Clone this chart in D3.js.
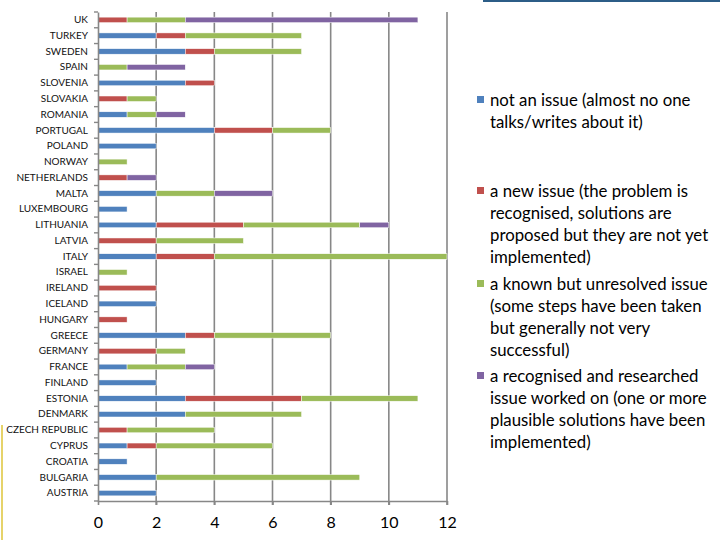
<!DOCTYPE html>
<html><head><meta charset="utf-8">
<script src="https://cdn.jsdelivr.net/npm/d3@7"></script>
<style>body{margin:0;background:#fff}svg{display:block}</style>
</head><body>
<svg id="c" width="720" height="540"></svg>
<script>
// Categories listed bottom to top
const countries = ["AUSTRIA","BULGARIA","CROATIA","CYPRUS","CZECH REPUBLIC","DENMARK","ESTONIA","FINLAND","FRANCE","GERMANY","GREECE","HUNGARY","ICELAND","IRELAND","ISRAEL","ITALY","LATVIA","LITHUANIA","LUXEMBOURG","MALTA","NETHERLANDS","NORWAY","POLAND","PORTUGAL","ROMANIA","SLOVAKIA","SLOVENIA","SPAIN","SWEDEN","TURKEY","UK"];
const notAnIssue   = [2,2,1,1,0,3,3,2,1,0,3,0,2,0,0,2,0,2,1,2,0,0,2,4,1,0,3,0,3,2,0];
const newIssue     = [0,0,0,1,1,0,4,0,0,2,1,1,0,2,0,2,2,3,0,0,1,0,0,2,0,1,1,0,1,1,1];
const knownIssue   = [0,7,0,4,3,4,4,0,2,1,4,0,0,0,1,8,3,4,0,2,0,1,0,2,1,1,0,1,3,4,2];
const researched   = [0,0,0,0,0,0,0,0,1,0,0,0,0,0,0,0,0,1,0,2,1,0,0,0,1,0,0,2,0,0,8];
const seriesNames = [
  "not an issue (almost no one\ntalks/writes about it)",
  "a new issue (the problem is\nrecognised, solutions are\nproposed but they are not yet\nimplemented)",
  "a known but unresolved issue\n(some steps have been taken\nbut generally not very\nsuccessful)",
  "a recognised and researched\nissue worked on (one or more\nplausible solutions have been\nimplemented)"
];
const seriesColors = ["#4f81bd","#c0504d","#9bbb59","#8064a2"];
const xTicks = [0,2,4,6,8,10,12];

const svg = d3.select("#c");
const x = d3.scaleLinear().domain([0,12]).range([98,447]);
const y = d3.scaleBand().domain(countries.slice().reverse()).range([12,501]);
const gridColor = "#878787";

// gridlines
svg.append("g").selectAll("line").data(xTicks.slice(1)).join("line")
  .attr("x1",d=>x(d)).attr("x2",d=>x(d)).attr("y1",12).attr("y2",505)
  .attr("stroke",gridColor).attr("stroke-width",1.6);

// bars
const table = countries.map((c,i)=>({c, v:[notAnIssue[i],newIssue[i],knownIssue[i],researched[i]]}));
const barH = 5.5;
const g = svg.append("g");
table.forEach(row=>{
  let acc = 0;
  row.v.forEach((v,k)=>{
    if(v>0){
      g.append("rect")
        .attr("x",x(acc)).attr("width",x(acc+v)-x(acc))
        .attr("y",y(row.c)+y.bandwidth()/2-barH/2).attr("height",barH)
        .attr("fill",seriesColors[k]).attr("stroke","#fff").attr("stroke-width",0.5);
    }
    acc += v;
  });
});

// y axis
const ya = svg.append("g").attr("transform","translate(98,0)")
  .call(d3.axisLeft(y).tickSize(0).tickPadding(10));
ya.select(".domain").attr("stroke",gridColor).attr("stroke-width",1.6);
ya.selectAll("text").attr("font-family","Lato, 'Open Sans', sans-serif").attr("font-size","10px").attr("fill","#111");
// boundary ticks
const bounds = d3.range(countries.length+1).map(i=>12+i*y.step());
svg.append("g").selectAll("line").data(bounds).join("line")
  .attr("x1",94).attr("x2",98).attr("y1",d=>d).attr("y2",d=>d)
  .attr("stroke",gridColor).attr("stroke-width",1.4);

// x axis
const xa = svg.append("g").attr("transform","translate(0,501)")
  .call(d3.axisBottom(x).tickValues(xTicks).tickSize(4).tickPadding(12).tickSizeOuter(0));
xa.select(".domain").attr("stroke",gridColor).attr("stroke-width",1.6);
xa.selectAll(".tick line").attr("stroke",gridColor).attr("stroke-width",1.6);
xa.selectAll("text").attr("font-family","Lato, 'Open Sans', sans-serif").attr("font-size","16px").attr("fill","#000");

// legend
const legY = [100,191,284,376];
const leg = svg.append("g");
seriesNames.forEach((name,k)=>{
  leg.append("rect").attr("x",477).attr("y",legY[k]-4).attr("width",7).attr("height",7).attr("fill",seriesColors[k]);
  const t = leg.append("text").attr("x",490).attr("y",legY[k]+5.5)
    .attr("font-family","Lato, 'Open Sans', sans-serif").attr("font-size","16.8px").attr("fill","#000");
  name.split("\n").forEach((ln,j)=>{
    t.append("tspan").attr("x",490).attr("dy",j===0?0:22).text(ln);
  });
});

// decorative edges
svg.append("line").attr("x1",483).attr("x2",720).attr("y1",1).attr("y2",1).attr("stroke","#2c5d87").attr("stroke-width",2);
svg.append("line").attr("x1",2).attr("x2",2).attr("y1",425).attr("y2",540).attr("stroke","#e6d36a").attr("stroke-width",2);
</script>
</body></html>
